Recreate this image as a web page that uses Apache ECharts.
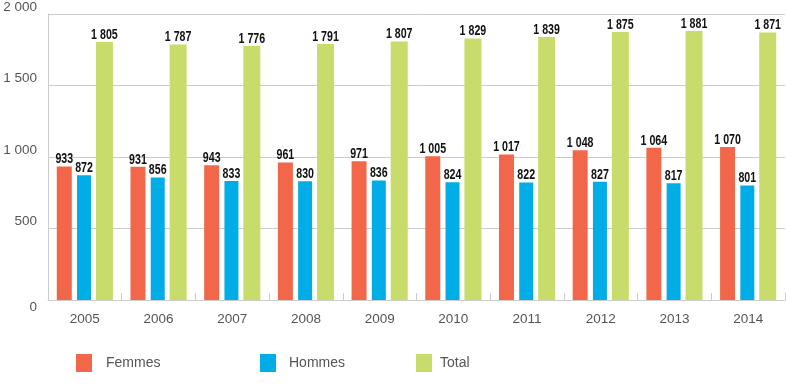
<!DOCTYPE html>
<html>
<head>
<meta charset="utf-8">
<script src="https://cdn.jsdelivr.net/npm/echarts@6/dist/echarts.min.js"></script>
<style>
html,body{margin:0;padding:0;background:#fff;}
#chart{width:786px;height:389px;}
</style>
</head>
<body>
<div id="chart"></div>
<script>
var categories = ['2005','2006','2007','2008','2009','2010','2011','2012','2013','2014'];
var femmes = [933, 931, 943, 961, 971, 1005, 1017, 1048, 1064, 1070];
var hommes = [872, 856, 833, 830, 836, 824, 822, 827, 817, 801];
var total = [1805, 1787, 1776, 1791, 1807, 1829, 1839, 1875, 1881, 1871];
var yTicks = [0, 500, 1000, 1500, 2000];

function fmt(v) {
  return String(v).replace(/\B(?=(\d{3})+(?!\d))/g, ' ');
}

var labelStyle = {
  show: true,
  position: 'top',
  distance: 0,
  color: '#111',
  fontFamily: '"Liberation Sans", Arial, sans-serif',
  fontWeight: 'bold',
  fontSize: 14,
  formatter: function (p) { return fmt(p.value); }
};

var axisFont = '"Liberation Sans", Arial, sans-serif';

var chart = echarts.init(document.getElementById('chart'));
chart.setOption({
  animation: false,
  grid: { left: 48, right: 1, top: 13, bottom: 89, containLabel: false },
  legend: [
    { data: ['Femmes'], left: 71, top: 349, itemWidth: 16, itemHeight: 18, icon: 'rect',
      textStyle: { color: '#555', fontSize: 14, fontFamily: axisFont, padding: [0,0,0,9] } },
    { data: ['Hommes'], left: 255, top: 349, itemWidth: 16, itemHeight: 18, icon: 'rect',
      textStyle: { color: '#555', fontSize: 14, fontFamily: axisFont, padding: [0,0,0,8] } },
    { data: ['Total'], left: 411, top: 349, itemWidth: 16, itemHeight: 18, icon: 'rect',
      textStyle: { color: '#555', fontSize: 14, fontFamily: axisFont, padding: [0,0,0,3] } }
  ],
  xAxis: {
    type: 'category',
    data: categories,
    boundaryGap: true,
    axisLine: { show: true, lineStyle: { color: '#cccccc', width: 1 } },
    axisTick: { show: true, inside: true, length: 7, lineStyle: { color: '#cccccc' } },
    axisLabel: { color: '#555', fontSize: 13.5, margin: 12, fontFamily: axisFont },
    splitLine: { show: false }
  },
  yAxis: {
    type: 'value',
    min: yTicks[0],
    max: yTicks[yTicks.length - 1],
    interval: 500,
    axisLine: { show: true, lineStyle: { color: '#cccccc', width: 1 } },
    axisTick: { show: false },
    axisLabel: { color: '#555', fontSize: 13.5, margin: 11, fontFamily: axisFont,
      verticalAlign: 'bottom',
      verticalAlignMinLabel: 'top',
      formatter: function (v) { return fmt(v); } },
    splitLine: { show: true, lineStyle: { color: '#cccccc', width: 1 } }
  },
  series: [
    { name: 'Femmes', type: 'bar', data: femmes, barWidth: 15, barGap: '35%',
      itemStyle: { color: '#F2674A' }, label: labelStyle },
    { name: 'Hommes', type: 'bar', data: hommes, barWidth: 14, barGap: '35%',
      itemStyle: { color: '#00ADE6' }, label: labelStyle },
    { name: 'Total', type: 'bar', data: total, barWidth: 17, barGap: '35%',
      itemStyle: { color: '#C8DC6B' }, label: labelStyle }
  ]
});

// Narrow (condensed-looking) value labels: horizontally squeeze the bold label texts.
function condenseLabels() {
  try {
    var zr = chart.getZr();
    var list = zr.storage.getDisplayList(true);
    var seen = [];
    list.forEach(function (d) {
      var t = d.parent;
      if (t && t.type === 'text' && t.style && t.style.fontWeight === 'bold' && seen.indexOf(t) < 0) {
        seen.push(t);
      }
    });
    seen.forEach(function (t) {
      t.scaleX = 0.76;
      t.markRedraw();
      if (t.__hostTarget) t.__hostTarget.markRedraw();
    });
    zr.refreshImmediately();
  } catch (e) {}
}
condenseLabels();
chart.on('finished', function () { condenseLabels(); });
</script>
</body>
</html>
